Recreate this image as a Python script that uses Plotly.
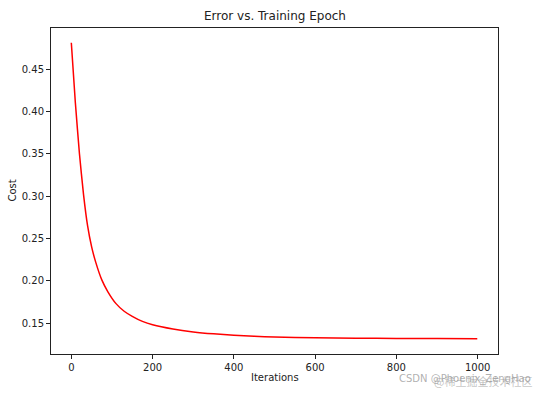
import plotly.graph_objects as go

# Values
iterations = [0, 10, 20, 30, 40, 50, 60, 75, 90, 110, 130, 150, 175, 200,
              250, 300, 350, 400, 450, 500, 600, 700, 800, 900, 999]
cost = [0.481, 0.410, 0.350, 0.302, 0.265, 0.240, 0.222, 0.201, 0.187, 0.173,
        0.164, 0.158, 0.152, 0.148, 0.1430, 0.1396, 0.1373, 0.1356, 0.1344,
        0.1336, 0.1327, 0.1322, 0.1319, 0.1317, 0.1315]
x_ticks = [0, 200, 400, 600, 800, 1000]
y_ticks = [0.15, 0.20, 0.25, 0.30, 0.35, 0.40, 0.45]

title_text = "Error vs. Training Epoch"
x_label = "Iterations"
y_label = "Cost"
watermark_en = "CSDN @Phoenix_ZengHao"
watermark_cn = "@稀土掘金技术社区"

FONT = "DejaVu Sans, Liberation Sans, sans-serif"

fig = go.Figure()
fig.add_trace(go.Scatter(
    x=iterations, y=cost, mode="lines",
    line=dict(color="red", width=1.5, shape="spline", smoothing=0.5),
    showlegend=False, hoverinfo="skip",
))

W, H = 545, 394
L, R, T, B = 51, 47, 28, 40

axis_common = dict(
    showline=True, linecolor="#222222", linewidth=1, mirror=True,
    ticks="outside", ticklen=4, tickcolor="#222222", tickwidth=1,
    showgrid=False, zeroline=False,
    tickfont=dict(family=FONT, size=10, color="#222222"),
)

fig.update_layout(
    width=W, height=H,
    margin=dict(l=L, r=R, t=T, b=B, pad=0),
    paper_bgcolor="white", plot_bgcolor="white",
    font=dict(family=FONT, size=10, color="#222222"),
    xaxis=dict(range=[-50, 1050], tickvals=x_ticks,
               ticktext=[str(v) for v in x_ticks], **axis_common),
    yaxis=dict(range=[0.1135, 0.4985], tickvals=y_ticks,
               ticktext=[f"{v:.2f}" for v in y_ticks], **axis_common),
    annotations=[
        dict(text=title_text, xref="paper", yref="paper", x=0.5, y=1,
             yshift=3, xanchor="center", yanchor="bottom", showarrow=False,
             font=dict(family=FONT, size=12, color="#222222")),
        dict(text=x_label, xref="paper", yref="paper", x=0.5, y=0,
             yshift=-16, xanchor="center", yanchor="top", showarrow=False,
             font=dict(family=FONT, size=10, color="#222222")),
        dict(text=y_label, xref="paper", yref="paper", x=0, y=0.5,
             xshift=-32, xanchor="right", yanchor="middle", textangle=-90,
             showarrow=False,
             font=dict(family=FONT, size=10, color="#222222")),
        dict(text=watermark_en, xref="paper", yref="paper",
             x=(397 - L) / (W - L - R), y=0, yshift=-17,
             xanchor="left", yanchor="top", showarrow=False,
             font=dict(family=FONT, size=10, color="rgba(150,150,150,0.75)")),
        dict(text=watermark_cn, xref="paper", yref="paper",
             x=(432 - L) / (W - L - R), y=0, yshift=-17,
             xanchor="left", yanchor="top", showarrow=False,
             font=dict(family="Noto Sans CJK SC", size=11,
                       color="rgba(150,150,150,0.55)")),
    ],
)

fig.write_html("out.html")
